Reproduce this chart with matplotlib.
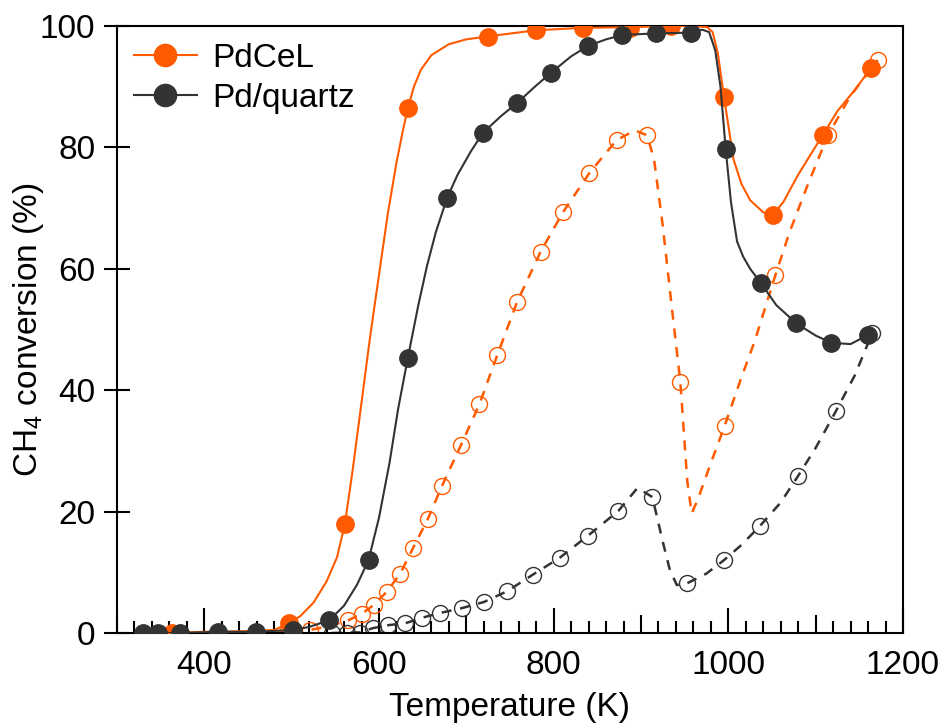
import numpy as np
import matplotlib
matplotlib.use("Agg")
import matplotlib.pyplot as plt
from matplotlib.lines import Line2D

plt.rcParams['font.family'] = ['Liberation Sans', 'DejaVu Sans']
plt.rcParams['mathtext.fontset'] = 'custom'
plt.rcParams['mathtext.rm'] = 'Liberation Sans'

orange = '#ff5a00'
grey = '#333333'

# PdCeL, filled markers (T in K, conversion in %)
pdcel_T = [363, 497, 561, 633, 725, 780, 834, 887, 934, 995, 1051, 1108, 1163]
pdcel_v = [0, 1.6, 18, 86.5, 98.2, 99.3, 99.7, 99.7, 100, 88.3, 68.9, 82, 93]
# PdCeL, solid line trace
pdcel_line_T = [330, 360, 400, 450, 480, 497, 510, 525, 540, 552, 561, 570, 580, 590, 600,
                610, 620, 627, 633, 640, 648, 660, 680, 700, 725, 780, 834, 887, 934, 960, 976,
                982, 988, 995, 1006, 1015, 1025, 1040, 1051, 1063, 1080, 1095, 1108,
                1125, 1145, 1163]
pdcel_line_v = [0, 0, 0.2, 0.3, 0.5, 1.6, 2.8, 5, 8.5, 12.5, 18, 27, 38, 49, 59,
                69, 77.5, 82.5, 86.5, 90, 92.8, 95.2, 97, 97.8, 98.3, 99.3, 99.7, 99.8, 100, 100, 99.8,
                99, 95.5, 88.3, 78, 74, 71.3, 69.3, 68.9, 71, 75.5, 79, 82,
                86, 89.5, 93]

# Pd/quartz, filled markers
pdq_T = [330, 347, 372, 416, 459, 502, 543, 588, 633, 678, 719, 758, 797, 839, 878,
         917, 957, 997, 1037, 1078, 1118, 1160]
pdq_v = [0, 0, 0, 0.2, 0.2, 0.5, 2.1, 12, 45.3, 71.7, 82.4, 87.3, 92.3, 96.7, 98.5,
         98.8, 98.9, 79.7, 57.7, 51, 47.8, 49.1]
# Pd/quartz, solid line trace
pdq_line_T = [330, 372, 416, 459, 502, 520, 543, 560, 575, 588, 600, 612, 622, 633, 645,
              655, 665, 678, 690, 705, 719, 740, 758, 780, 797, 820, 839, 860, 878, 917, 957,
              970, 978, 985, 991, 997, 1003, 1010, 1017, 1025, 1037, 1055, 1078, 1100,
              1118, 1140, 1160]
pdq_line_v = [0, 0, 0.2, 0.2, 0.5, 1, 2.1, 4.5, 8, 12, 19, 28, 37, 45.3, 54,
              60.5, 66, 71.7, 75.5, 79.3, 82.4, 85.2, 87.3, 90.2, 92.3, 95, 96.7, 97.8, 98.5, 98.8, 98.9,
              99.4, 99, 96, 90, 79.7, 71, 64.5, 62, 60, 57.7, 54, 51, 49,
              47.8, 47.6, 49.1]

# PdCeL, open markers (dashed)
pdcel_o_T = [494.5, 521, 565, 580.5, 593.8, 609, 624.4, 639, 656, 672, 694, 715, 735.5,
             758, 785, 811, 841, 872, 907, 945, 995.7, 1054, 1114, 1171]
pdcel_o_v = [0.2, 0.5, 2.1, 3.2, 4.6, 6.8, 9.8, 14, 18.8, 24.2, 31, 37.7, 45.8,
             54.5, 62.8, 69.4, 75.8, 81.2, 82, 41.4, 34.1, 59, 82, 94.4]
pdcel_d_T = [480, 494.5, 521, 545, 565, 580.5, 593.8, 609, 624.4, 639, 656, 672, 694, 715,
             735.5, 758, 785, 811, 841, 872, 893, 907, 915, 925, 935, 945, 953, 958,
             965, 980, 995.7, 1014, 1030, 1054, 1070, 1090, 1114, 1140, 1171]
pdcel_d_v = [0, 0.2, 0.5, 1.2, 2.1, 3.2, 4.6, 6.8, 9.8, 14, 18.8, 24.2, 31, 37.7,
             45.8, 54.5, 62.8, 69.4, 75.8, 81.2, 82.8, 82, 78, 67, 54, 41.4, 25, 19.7,
             22, 28, 34.1, 41.7, 48, 59, 66, 73.5, 82, 88.5, 94.4]

# Pd/quartz, open markers (dashed)
pdq_o_T = [546, 563, 578.5, 593.4, 610.6, 630, 649, 670, 695, 720, 747, 776, 807, 839,
           874, 913, 953, 995, 1036, 1080, 1123, 1165]
pdq_o_v = [0, 0, 0, 0.8, 1.3, 1.6, 2.5, 3.3, 4.1, 5.1, 6.9, 9.6, 12.4, 16,
           20.1, 22.4, 8.2, 12, 17.6, 25.9, 36.5, 49.5]
pdq_d_T = [546, 578, 593, 611, 630, 649, 670, 695, 720, 747, 776, 807, 839, 874, 896,
           913, 925, 933, 941, 953, 975, 995, 1015, 1036, 1060, 1080, 1100, 1123, 1145, 1165]
pdq_d_v = [0, 0.1, 0.8, 1.3, 1.6, 2.5, 3.3, 4.1, 5.1, 6.9, 9.6, 12.4, 16, 20.1, 23.9,
           22.4, 15, 10.4, 7.9, 8.2, 9.8, 12, 14.5, 17.6, 21.5, 25.9, 30.5, 36.5, 42.5, 49.5]

fig = plt.figure(figsize=(9.45, 7.24), dpi=100)
ax = fig.add_axes([117/945, 1-633/724, (903-117)/945, (633-26)/724])

dash = (0, (4, 3.5))
ax.plot(pdcel_d_T, pdcel_d_v, color=orange, lw=1.8, ls=dash, zorder=2)
ax.plot(pdcel_o_T, pdcel_o_v, 'o', ms=11.5, mfc='none', mec=orange, mew=1.0, zorder=2)
ax.plot(pdq_d_T, pdq_d_v, color=grey, lw=1.8, ls=dash, zorder=2)
ax.plot(pdq_o_T, pdq_o_v, 'o', ms=11.5, mfc='none', mec=grey, mew=1.0, zorder=2)

ax.plot(pdcel_line_T, pdcel_line_v, color=orange, lw=1.5, zorder=3)
ax.plot(pdcel_T, pdcel_v, 'o', ms=12.5, color=orange, zorder=3)
ax.plot(pdq_line_T, pdq_line_v, color=grey, lw=1.5, zorder=4)
ax.plot(pdq_T, pdq_v, 'o', ms=12.5, color=grey, zorder=4)

ax.set_xlim(300, 1200)
ax.set_ylim(0, 100)

xt = np.arange(300, 1201, 100)
ax.set_xticks(xt)
ax.set_xticklabels([str(t) if t % 200 == 0 else '' for t in xt])
ax.set_xticks(np.arange(300, 1201, 20), minor=True)
ax.set_yticks(np.arange(0, 101, 20))
ax.tick_params(axis='x', which='major', direction='in', length=18, width=1.5,
               labelsize=24, pad=12, top=False)
ax.tick_params(axis='x', which='minor', direction='in', length=8.6, width=1.5, top=False)
ax.tick_params(axis='y', which='major', direction='inout', length=19, width=1.5,
               labelsize=24, pad=6, right=False)
for t, loc in zip(ax.xaxis.get_major_ticks(), xt):
    if loc % 200:
        t.tick1line.set_markersize(13)
for s in ax.spines.values():
    s.set_linewidth(1.5)

ax.set_xlabel('Temperature (K)', fontsize=24, labelpad=8)
ax.set_ylabel('CH$_\\mathregular{4}$ conversion (%)', fontsize=24, labelpad=-4)

handles = [Line2D([], [], color=orange, lw=1.5, marker='o', ms=16),
           Line2D([], [], color=grey, lw=1.5, marker='o', ms=16)]
ax.legend(handles, ['PdCeL', 'Pd/quartz'], loc='upper left', frameon=False, fontsize=24,
          handlelength=1.9, handletextpad=0.45, labelspacing=0.28,
          borderaxespad=0.2, borderpad=0.3)

fig.savefig('out.png', dpi=100)
